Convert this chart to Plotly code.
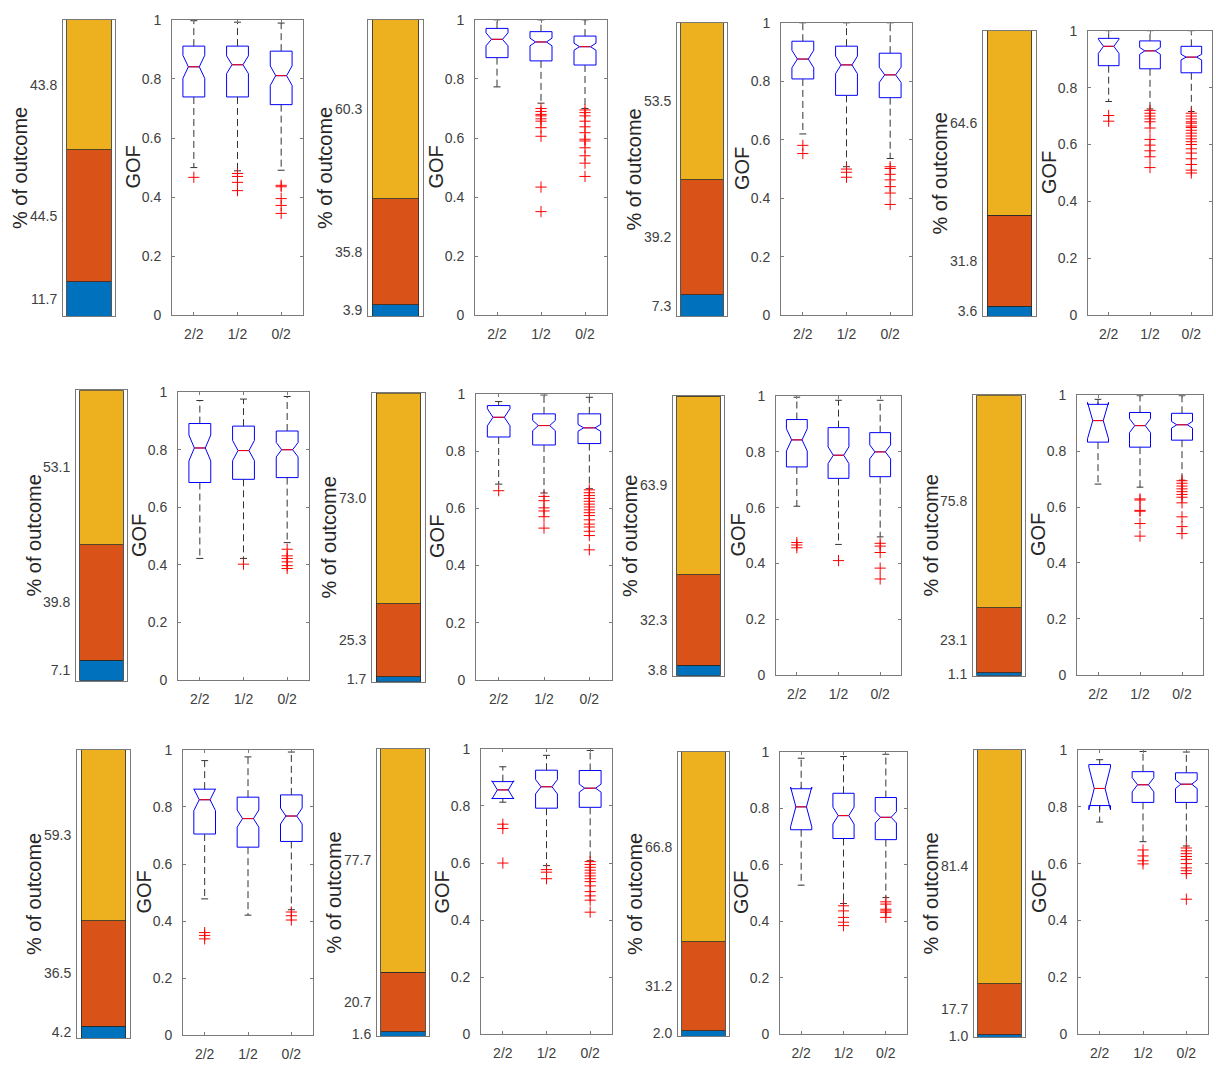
import plotly.graph_objects as go

# ---------------- data ----------------
categories = ["2/2", "1/2", "0/2"]

# stacked-bar percentages (bottom -> top) for the 12 panels
pct_blue   = [11.7, 3.9, 7.3, 3.6, 7.1, 1.7, 3.8, 1.1, 4.2, 1.6, 2.0, 1.0]
pct_orange = [44.5, 35.8, 39.2, 31.8, 39.8, 25.3, 32.3, 23.1, 36.5, 20.7, 31.2, 17.7]
pct_yellow = [43.8, 60.3, 53.5, 64.6, 53.1, 73.0, 63.9, 75.8, 59.3, 77.7, 66.8, 81.4]

# box statistics per panel, for categories 2/2, 1/2, 0/2
box_q1 = [
    [0.739, 0.739, 0.713], [0.872, 0.861, 0.847], [0.808, 0.752, 0.744], [0.877, 0.866, 0.852],
    [0.686, 0.697, 0.703], [0.850, 0.822, 0.827], [0.746, 0.705, 0.711], [0.832, 0.814, 0.839],
    [0.705, 0.659, 0.679], [0.826, 0.792, 0.795], [0.724, 0.693, 0.689], [0.804, 0.815, 0.815],
]
box_median = [
    [0.841, 0.848, 0.811], [0.934, 0.925, 0.909], [0.876, 0.856, 0.822], [0.945, 0.929, 0.907],
    [0.806, 0.797, 0.800], [0.919, 0.890, 0.882], [0.843, 0.788, 0.800], [0.909, 0.891, 0.894],
    [0.825, 0.759, 0.768], [0.856, 0.867, 0.862], [0.805, 0.774, 0.768], [0.864, 0.877, 0.879],
]
box_q3 = [
    [0.911, 0.911, 0.894], [0.971, 0.960, 0.945], [0.937, 0.920, 0.896], [0.973, 0.964, 0.945],
    [0.891, 0.882, 0.865], [0.960, 0.931, 0.931], [0.916, 0.887, 0.869], [0.967, 0.938, 0.935],
    [0.862, 0.834, 0.842], [0.885, 0.925, 0.924], [0.869, 0.853, 0.838], [0.948, 0.923, 0.919],
]
box_notch = [
    [0.039, 0.030, 0.033], [0.022, 0.013, 0.012], [0.030, 0.030, 0.026], [0.025, 0.012, 0.010],
    [0.045, 0.035, 0.025], [0.030, 0.018, 0.012], [0.040, 0.030, 0.025], [0.065, 0.025, 0.012],
    [0.038, 0.030, 0.028], [0.032, 0.025, 0.014], [0.070, 0.030, 0.020], [0.075, 0.025, 0.015],
]
whisker_high = [
    [0.997, 0.992, 0.989], [1.0, 1.0, 1.0], [1.0, 1.0, 1.0], [1.0, 1.0, 1.0],
    [0.971, 0.976, 0.985], [0.974, 0.997, 0.989], [0.996, 0.985, 0.985], [0.985, 0.998, 0.998],
    [0.962, 0.975, 0.992], [0.937, 0.977, 0.994], [0.977, 0.983, 0.991], [0.965, 0.994, 0.992],
]
whisker_low = [
    [0.500, 0.489, 0.491], [0.773, 0.718, 0.700], [0.620, 0.508, 0.536], [0.751, 0.725, 0.716],
    [0.422, 0.422, 0.477], [0.685, 0.654, 0.669], [0.605, 0.468, 0.495], [0.682, 0.671, 0.696],
    [0.478, 0.421, 0.440], [0.813, 0.591, 0.608], [0.528, 0.463, 0.484], [0.746, 0.677, 0.662],
]
outliers = [
    [[0.467], [0.48, 0.47, 0.45, 0.422], [0.44, 0.435, 0.395, 0.372, 0.345]],
    [[], [0.70, 0.69, 0.68, 0.675, 0.665, 0.657, 0.635, 0.606, 0.434, 0.351],
     [0.695, 0.686, 0.675, 0.657, 0.638, 0.618, 0.596, 0.59, 0.567, 0.54, 0.515, 0.47]],
    [[0.581, 0.553], [0.50, 0.489, 0.472], [0.508, 0.502, 0.482, 0.463, 0.44, 0.418, 0.379]],
    [[0.702, 0.682], [0.72, 0.71, 0.70, 0.69, 0.68, 0.658, 0.618, 0.598, 0.578, 0.557, 0.519],
     [0.71, 0.70, 0.69, 0.68, 0.675, 0.665, 0.66, 0.65, 0.64, 0.63, 0.62, 0.61, 0.60, 0.585,
      0.57, 0.55, 0.53, 0.51, 0.50]],
    [[], [0.402], [0.454, 0.431, 0.422, 0.41, 0.397, 0.387]],
    [[0.662], [0.642, 0.627, 0.602, 0.591, 0.571, 0.531],
     [0.665, 0.655, 0.645, 0.635, 0.625, 0.615, 0.605, 0.595, 0.585, 0.575, 0.56, 0.545,
      0.535, 0.52, 0.505, 0.455]],
    [[0.475, 0.466, 0.456], [0.41], [0.472, 0.462, 0.439, 0.383, 0.344]],
    [[], [0.629, 0.625, 0.588, 0.585, 0.541, 0.496],
     [0.694, 0.685, 0.675, 0.665, 0.655, 0.645, 0.635, 0.615, 0.565, 0.53, 0.505]],
    [[0.36, 0.35, 0.338], [], [0.432, 0.419, 0.404]],
    [[0.736, 0.721, 0.60], [0.577, 0.568, 0.545],
     [0.605, 0.595, 0.585, 0.575, 0.565, 0.555, 0.545, 0.535, 0.52, 0.50, 0.485, 0.47, 0.428]],
    [[], [0.455, 0.437, 0.414, 0.397, 0.385], [0.469, 0.461, 0.443, 0.437, 0.432, 0.414]],
    [[], [0.648, 0.627, 0.61, 0.599],
     [0.655, 0.645, 0.635, 0.625, 0.615, 0.60, 0.585, 0.575, 0.565, 0.475]],
]

# ---------------- layout (pixel boxes of the axes in the 1216x1071 page) ----------------
W, H = 1216, 1071
bar_boxes = [
    (63, 115, 12, 313), (368, 423, 12, 313), (677, 727, 15, 313), (983, 1036, 23, 313),
    (76, 127, 388, 683), (372, 425, 391, 684), (673, 724, 394, 678), (973, 1025, 393, 678),
    (77, 130, 753, 1046), (377, 429, 752, 1044), (678, 729, 755, 1044), (974, 1025, 753, 1045),
]
gof_boxes = [
    (172, 303, 12, 312), (475, 607, 12, 312), (781, 912, 15, 312), (1088, 1212, 23, 312),
    (178, 309, 390, 682), (476, 612, 392, 682), (776, 901, 394, 677), (1077, 1203, 393, 677),
    (183, 313, 753, 1043), (481, 612, 752, 1042), (780, 907, 755, 1042), (1078, 1208, 753, 1042),
]

FONT = "Liberation Sans, Arial, sans-serif"
FRAME = "#7a7a7a"
TICKC = "#404040"
TITLEC = "#262626"
C_BLUE, C_ORANGE, C_YELLOW = "#0072BD", "#D95319", "#EDB120"
BOXW = 0.5
CAPW = 0.08


def xdom(b):
    return [b[0] / W, b[1] / W]


def ydom(b):
    return [1 - b[3] / H, 1 - b[2] / H]


fig = go.Figure()
layout = dict(
    autosize=True, margin=dict(l=0, r=0, t=0, b=0, pad=0),
    plot_bgcolor="white", paper_bgcolor="white",
    showlegend=False, barmode="stack", boxmode="overlay",
    font=dict(family=FONT, color=TICKC, size=14),
)
annotations = []

positions = [1, 2, 3]
n = len(bar_boxes)
for i in range(n):
    bx, by = 2 * i + 1, 2 * i + 1
    gx, gy = 2 * i + 2, 2 * i + 2
    oy = 2 * n + i + 1
    bxn = "x" if bx == 1 else f"x{bx}"
    byn = "y" if by == 1 else f"y{by}"
    gxn, gyn = f"x{gx}", f"y{gy}"

    # ---- stacked bar ----
    segs = [pct_blue[i], pct_orange[i], pct_yellow[i]]
    cols = [C_BLUE, C_ORANGE, C_YELLOW]
    for v, c in zip(segs, cols):
        fig.add_trace(go.Bar(x=[0], y=[v], width=1.0,
                             marker=dict(color=c, line=dict(color="#2a2a2a", width=0.8)),
                             xaxis=bxn, yaxis=byn, hoverinfo="y"))
    mids, acc = [], 0.0
    for v in segs:
        mids.append(acc + v / 2)
        acc += v
    layout[f"xaxis{bx if bx > 1 else ''}"] = dict(
        domain=xdom(bar_boxes[i]), anchor=byn, range=[-0.59, 0.59], showticklabels=False,
        ticks="", showgrid=False, zeroline=False, showline=True, mirror=True,
        linecolor=FRAME, linewidth=1, fixedrange=True)
    layout[f"yaxis{by if by > 1 else ''}"] = dict(
        domain=ydom(bar_boxes[i]), anchor=bxn, range=[0, 100], tickmode="array",
        tickvals=mids, ticktext=[f"{v:.1f}" for v in segs], ticks="", showgrid=False,
        zeroline=False, showline=True, mirror=True, linecolor=FRAME, linewidth=1,
        tickfont=dict(size=14, color=TICKC), ticklabelstandoff=2)
    layout[f"yaxis{oy}"] = dict(
        overlaying=byn, anchor=bxn, side="right", range=[0, 100], tickmode="linear",
        tick0=0, dtick=10, ticks="inside", ticklen=3, tickcolor=FRAME, showticklabels=False,
        showgrid=False, zeroline=False, showline=False)
    yb = ydom(bar_boxes[i])
    annotations.append(dict(
        text="% of outcome", textangle=-90, xref="paper", yref="paper",
        x=bar_boxes[i][0] / W, y=(yb[0] + yb[1]) / 2, xanchor="center", yanchor="middle",
        xshift=-43, showarrow=False, font=dict(size=20, color=TITLEC, family=FONT)))

    # ---- notched boxes ----
    for j, p in enumerate(positions):
        fig.add_trace(go.Box(
            x=[p], q1=[box_q1[i][j]], median=[box_median[i][j]], q3=[box_q3[i][j]],
            lowerfence=[box_q1[i][j]], upperfence=[box_q3[i][j]], notched=True,
            notchspan=[box_notch[i][j]], notchwidth=0.25, width=BOXW,
            line=dict(color="#0000FF", width=1), fillcolor="rgba(0,0,0,0)",
            boxpoints=False, whiskerwidth=0, xaxis=gxn, yaxis=gyn, hoverinfo="y"))
    for j, p in enumerate(positions):
        # dashed whiskers
        fig.add_trace(go.Scatter(
            x=[p, p, None, p, p],
            y=[box_q3[i][j], whisker_high[i][j], None, box_q1[i][j], whisker_low[i][j]],
            mode="lines", line=dict(color="#333333", width=1, dash="7px,4px"),
            xaxis=gxn, yaxis=gyn, hoverinfo="skip"))
        # whisker caps
        fig.add_trace(go.Scatter(
            x=[p - CAPW, p + CAPW, None, p - CAPW, p + CAPW],
            y=[whisker_high[i][j], whisker_high[i][j], None, whisker_low[i][j], whisker_low[i][j]],
            mode="lines", line=dict(color="#333333", width=1),
            xaxis=gxn, yaxis=gyn, hoverinfo="skip"))
        # red median
        half = BOXW / 2 * 0.5
        fig.add_trace(go.Scatter(
            x=[p - half, p + half], y=[box_median[i][j], box_median[i][j]],
            mode="lines", line=dict(color="#FF0000", width=1),
            xaxis=gxn, yaxis=gyn, hoverinfo="skip"))
        # outliers
        if outliers[i][j]:
            fig.add_trace(go.Scatter(
                x=[p] * len(outliers[i][j]), y=outliers[i][j], mode="markers",
                marker=dict(symbol="cross-thin", size=8, line=dict(color="#FF0000", width=1)),
                xaxis=gxn, yaxis=gyn, hoverinfo="y"))
    layout[f"xaxis{gx}"] = dict(
        domain=xdom(gof_boxes[i]), anchor=gyn, range=[0.5, 3.5], tickmode="array",
        tickvals=positions, ticktext=categories, ticks="inside", ticklen=3, tickcolor=FRAME,
        showgrid=False, zeroline=False, showline=True, mirror="ticks", linecolor=FRAME,
        linewidth=1, tickfont=dict(size=14, color=TICKC), ticklabelstandoff=6)
    layout[f"yaxis{gy}"] = dict(
        domain=ydom(gof_boxes[i]), anchor=gxn, range=[0, 1], tickmode="linear", tick0=0,
        dtick=0.2, ticks="inside", ticklen=3, tickcolor=FRAME, showgrid=False,
        zeroline=False, showline=True, mirror="ticks", linecolor=FRAME, linewidth=1,
        tickfont=dict(size=14, color=TICKC), ticklabelstandoff=7)
    yg = ydom(gof_boxes[i])
    annotations.append(dict(
        text="GOF", textangle=-90, xref="paper", yref="paper",
        x=gof_boxes[i][0] / W, y=(yg[0] + yg[1]) / 2, xanchor="center", yanchor="middle",
        xshift=-39, showarrow=False, font=dict(size=20, color=TITLEC, family=FONT)))

layout["annotations"] = annotations
fig.update_layout(**layout)
fig.write_html(
    "out.html", config={"displayModeBar": False, "responsive": True},
    default_width="100vw", default_height="100vh",
    post_script=("document.documentElement.style.margin='0';"
                 "document.body.style.margin='0';document.body.style.overflow='hidden';"))
